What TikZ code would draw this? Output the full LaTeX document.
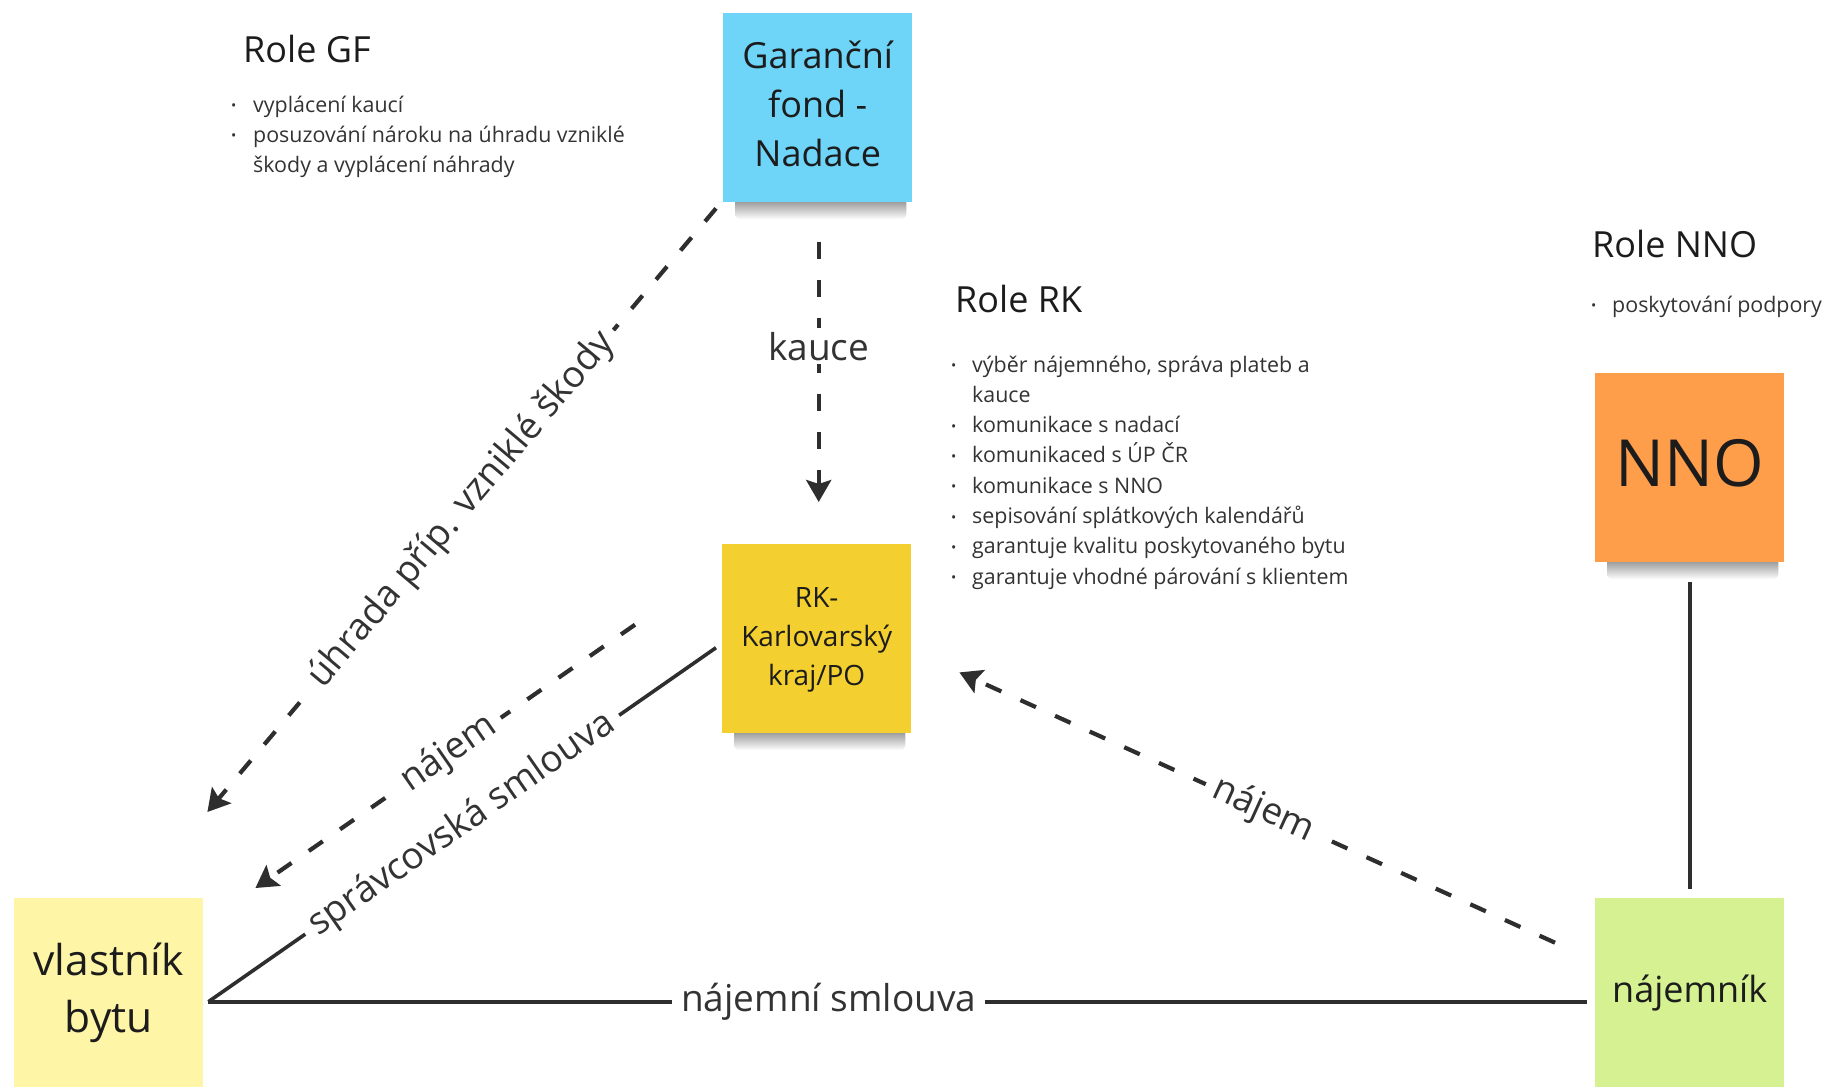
\documentclass[tikz,border=0pt]{standalone}
\usepackage{fontspec}
\setmainfont{Open Sans}
\usetikzlibrary{arrows.meta,calc,backgrounds}
\definecolor{ink}{HTML}{2E2E2E}
\definecolor{txt}{HTML}{1C1C1C}
\definecolor{listc}{HTML}{333333}
\definecolor{gfc}{HTML}{6ED4F8}
\definecolor{rkc}{HTML}{F4CF30}
\definecolor{nnoc}{HTML}{FF9E4A}
\definecolor{vlc}{HTML}{FEF5A6}
\definecolor{njc}{HTML}{D5F191}
\newcommand{\bul}{{\fontsize{14}{14}\selectfont\raisebox{1.5pt}{•}}}
\newcommand{\lift}[2]{\raisebox{#1}{\begin{tabular}{@{}c@{}}#2\end{tabular}}}
\begin{document}
\begin{tikzpicture}[x=1pt,y=-1pt,
  note/.style={minimum width=189pt,minimum height=189pt,inner sep=0pt,align=center,text=txt,anchor=north west},
  dline/.style={draw=ink,line width=4.2pt,dash pattern=on 17pt off 21pt},
  sline/.style={draw=ink,line width=3.6pt},
  tip/.style={-{Stealth[length=22pt,width=25pt,inset=4pt]}},
  elabel/.style={fill=white,text=listc,font=\fontsize{37}{37}\selectfont,inner sep=9pt},
  title/.style={anchor=base west,text=txt,font=\fontsize{36}{36}\selectfont,inner sep=0pt},
  listtxt/.style={anchor=base west,text=listc,inner sep=0pt,align=left}
]
\useasboundingbox (0,0) rectangle (1827,1087);

% sticky notes
\node[note,fill=gfc,font=\fontsize{36}{49}\selectfont] (gf) at (723,13) {\lift{9pt}{Garanční\\fond -\\Nadace}};
\node[note,fill=rkc,font=\fontsize{28}{39}\selectfont] (rk) at (722,544) {\lift{5pt}{RK-\\Karlovarský\\kraj/PO}};
\node[note,fill=nnoc,font=\fontsize{65}{65}\selectfont] (nno) at (1595,373) {\raisebox{10pt}{NNO}};
\node[note,fill=vlc,font=\fontsize{42.5}{57}\selectfont] (vl) at (14,898) {\lift{6pt}{vlastník\\bytu}};
\node[note,fill=njc,font=\fontsize{36}{36}\selectfont] (nj) at (1595,898) {\raisebox{4pt}{nájemník}};

% shadows
\begin{pgfonlayer}{background}
\foreach \n in {gf,rk,nno}{
  \shade[top color=black!50,bottom color=white,rounded corners=6pt]
    ($(\n.south west)+(12,-6)$) rectangle ($(\n.south east)+(-6,17)$);
}
\end{pgfonlayer}

% titles and lists
\node[title] (tgf) at (243,62) {Role GF};
\node[listtxt] (lgf) at (231,112) {\fontsize{21.4}{30}\selectfont
  \begin{tabular}[t]{@{}p{22pt}@{}l@{}}
  \bul & vyplácení kaucí\\
  \bul & posuzování nároku na úhradu vzniklé\\
       & škody a vyplácení náhrady
  \end{tabular}};

\node[title] (trk) at (955,312) {Role RK};
\node[listtxt] (lrk) at (951,372) {\fontsize{21.4}{30.3}\selectfont
  \begin{tabular}[t]{@{}p{21pt}@{}l@{}}
  \bul & výběr nájemného, správa plateb a\\
       & kauce\\
  \bul & komunikace s nadací\\
  \bul & komunikaced s ÚP ČR\\
  \bul & komunikace s NNO\\
  \bul & sepisování splátkových kalendářů\\
  \bul & garantuje kvalitu poskytovaného bytu\\
  \bul & garantuje vhodné párování s klientem
  \end{tabular}};

\node[title] (tnno) at (1592,257) {Role NNO};
\node[listtxt] (lnno) at (1591,312) {\fontsize{21.4}{30}\selectfont
  \begin{tabular}[t]{@{}p{21pt}@{}l@{}}
  \bul & poskytování podpory
  \end{tabular}};

% connector end points
\coordinate (gfA) at ($(gf.south west)+(-7,6)$);
\coordinate (vlA) at ($(vl.north east)+(4,-86)$);
\coordinate (rkA) at ($(rk.west)+(-87,-14)$);
\coordinate (vlB) at ($(vl.north east)+(52,-10)$);
\coordinate (vlC) at ($(vl.east)+(5,9)$);
\coordinate (rkC) at ($(rk.west)+(-6,9)$);
\coordinate (njC) at ($(nj.west)+(-8,9)$);
\coordinate (njD) at ($(nj.west)+(-40,-50)$);
\coordinate (rkD) at ($(rk.south east)+(48,-61)$);
\coordinate (gfK) at ($(gf.south)+(1,40)$);
\coordinate (rkK) at ($(rk.north)+(2,-42)$);
\coordinate (nnoE) at ($(nno.south)+(0,20)$);
\coordinate (njE) at ($(nj.north)+(0,-9)$);

% connectors
\draw[dline,tip] (gfA) -- node[elabel,sloped,pos=0.5] (l1) {úhrada příp. vzniklé škody} (vlA);
\draw[dline,tip] (rkA) -- node[elabel,sloped,pos=0.49] (l2) {nájem} (vlB);
\draw[sline] (rkC) -- node[elabel,sloped,pos=0.5] (l3) {správcovská smlouva} (vlC);
\draw[sline] (vlC) -- node[elabel,pos=0.45] (l4) {nájemní smlouva} (njC);
\draw[dline,tip] (njD) -- node[elabel,sloped,pos=0.49] (l5) {nájem} (rkD);
\draw[dline,tip] (gfK) -- node[elabel,pos=0.4,inner sep=4pt] (l6) {kauce} (rkK);
\draw[sline] (nnoE) -- (njE);
\end{tikzpicture}
\end{document}
